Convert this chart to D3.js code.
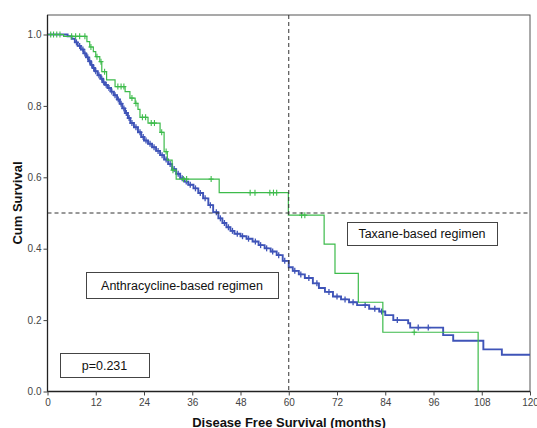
<!DOCTYPE html>
<html><head><meta charset="utf-8">
<script src="https://cdn.jsdelivr.net/npm/d3@7"></script>
<style>body{margin:0;background:#fff}svg{display:block}text{font-family:"Liberation Sans",Arial,sans-serif}</style>
</head><body><svg id="c" width="537" height="428"></svg>
<script>
// ---- data ----
const xTicks = [0,12,24,36,48,60,72,84,96,108,120];
const yTicks = [0.0,0.2,0.4,0.6,0.8,1.0];
const antTimes = [0,5,6,6.8,7.5,8.3,9,9.6,10.2,10.8,11.3,11.8,12.5,13.2,13.8,14.3,15,15.8,16.5,17.3,18,18.6,19.3,20,20.6,21.5,22.5,23.3,24,25,26,27,28,29,30,31,32,33,34,35,36.3,37.5,38.7,40,41.2,42.5,43.5,44.5,45.5,46.5,48,49.5,51,52.5,54,55.5,57,58.5,60,61,62.5,64,66,67.5,69,71,73,75,77,80,82.5,84,86,89.7,90.2,98.4,100.9,108.4,113,120];
const antSurv = [1,0.995,0.988,0.978,0.968,0.958,0.947,0.936,0.925,0.915,0.906,0.897,0.886,0.876,0.866,0.859,0.85,0.84,0.83,0.818,0.806,0.793,0.78,0.766,0.752,0.74,0.726,0.713,0.703,0.694,0.684,0.674,0.662,0.65,0.637,0.623,0.61,0.597,0.588,0.579,0.569,0.556,0.541,0.522,0.502,0.485,0.472,0.46,0.45,0.442,0.435,0.428,0.42,0.41,0.401,0.392,0.382,0.366,0.348,0.338,0.328,0.318,0.303,0.29,0.279,0.266,0.258,0.25,0.242,0.232,0.224,0.214,0.2,0.191,0.179,0.158,0.142,0.118,0.103,0.103];
const antCensor = [7.2,8,8.8,9.3,10,10.5,11,11.5,12,12.8,13.5,14,14.6,15.3,16,16.8,17.6,18.3,19,19.6,20.3,21,22,23,23.8,24.5,25.5,26.5,27.5,28.5,29.5,30.5,31.5,32.5,33.5,34.5,35.5,36.8,38,39.2,40.5,42,43,44,45,46,47.2,48.5,50,51.7,53,54.5,56,57.5,59,61.5,63,65,67,70,72,74,76,79,81.4,83.1,87,92.2,94.7];
const taxTimes = [0,4,9.8,10.5,11.4,12,13,13.5,14.7,16.8,19.3,20.5,21.8,22.5,23,25,28,29,29.8,31,32,42.7,59.9,68.8,71.5,77.3,83.4,107.1];
const taxSurv = [1,0.995,0.98,0.965,0.952,0.938,0.924,0.896,0.873,0.854,0.84,0.822,0.807,0.79,0.768,0.752,0.726,0.672,0.648,0.62,0.595,0.557,0.494,0.413,0.331,0.25,0.166,0];
const taxCensor = [0.8,1.5,2.3,3.1,6,7,8,9.3,10.8,12.3,13.3,14.2,17.5,18.3,19,21,22,23.6,24.4,25.8,26.6,28.4,29.5,31.2,33.8,34.6,40.7,50.4,51.6,55.3,56.2,57,63.2,64,91.2];
const refSurv = 0.5, refTime = 60;
const pText = "p=0.231";
const labels = ["Taxane-based regimen","Anthracycline-based regimen"];

// ---- layout ----
const svg = d3.select("#c");
const L=47.5, R=530, T=15, B=391.5;
const x = d3.scaleLinear().domain([0,120]).range([L,R]);
const y = d3.scaleLinear().domain([0,1]).range([B,34.5]);

// frame
svg.append("rect").attr("x",L).attr("y",T).attr("width",R-L).attr("height",B-T)
  .attr("fill","none").attr("stroke","#555").attr("stroke-width",1);

function series(times, surv){ return times.map((t,i)=>[t,surv[i]]); }
function survAt(times,surv,t){ let s=surv[0]; for(let i=0;i<times.length;i++){ if(times[i]<=t) s=surv[i]; } return s; }
const line = d3.line().x(d=>x(d[0])).y(d=>y(d[1])).curve(d3.curveStepAfter);

function drawCurve(times,surv,cens,color,w,cw){
  svg.append("path").attr("d",line(series(times,surv))).attr("fill","none")
    .attr("stroke",color).attr("stroke-width",w);
  const g = svg.append("g").attr("stroke",color).attr("stroke-width",cw);
  cens.forEach(t=>{
    const cx=x(t), cy=y(survAt(times,surv,t));
    g.append("line").attr("x1",cx).attr("x2",cx).attr("y1",cy-3).attr("y2",cy+3);
    g.append("line").attr("x1",cx-2.5).attr("x2",cx+2.5).attr("y1",cy).attr("y2",cy);
  });
}
drawCurve(antTimes,antSurv,antCensor,"#3f54b8",1.9,1.3);
drawCurve(taxTimes,taxSurv,taxCensor,"#3dbb4b",1.2,1.1);

// reference lines
svg.append("line").attr("x1",L).attr("x2",R).attr("y1",y(refSurv)).attr("y2",y(refSurv))
  .attr("stroke","#333").attr("stroke-dasharray","4,3");
svg.append("line").attr("x1",x(refTime)).attr("x2",x(refTime)).attr("y1",T).attr("y2",B)
  .attr("stroke","#333").attr("stroke-dasharray","4,3");

// axes
const yAxis = svg.append("g").attr("transform",`translate(${L},0)`)
  .call(d3.axisLeft(y).tickValues(yTicks).tickFormat(d3.format(".1f")).tickSize(4).tickPadding(2));
const xAxis = svg.append("g").attr("transform",`translate(0,${B})`)
  .call(d3.axisBottom(x).tickValues(xTicks).tickSize(4).tickPadding(3));
[yAxis,xAxis].forEach(a=>{
  a.select(".domain").attr("stroke","#222").attr("stroke-width",1.3);
  a.selectAll(".tick line").attr("stroke","#444");
  a.selectAll("text").attr("fill","#444").style("font-size","10px").style("font-family","'Liberation Sans',Arial,sans-serif");
});
yAxis.select(".domain").attr("d",`M0,${B}V${T}`);
xAxis.select(".domain").attr("d",`M${L},0H${R}`);

// titles
svg.append("text").attr("transform",`translate(22,203) rotate(-90)`).attr("text-anchor","middle")
  .style("font-size","13px").style("font-weight","bold").attr("fill","#111").text("Cum Survival");
svg.append("text").attr("x",289).attr("y",426.5).attr("text-anchor","middle")
  .style("font-size","13px").style("font-weight","bold").attr("fill","#111").text("Disease Free Survival (months)");

// boxes
function box(x0,y0,w,h,txt,fs){
  svg.append("rect").attr("x",x0+0.5).attr("y",y0+0.5).attr("width",w).attr("height",h)
    .attr("fill","#fff").attr("stroke","#444").attr("stroke-width",1);
  svg.append("text").attr("x",x0+w/2).attr("y",y0+h/2+4.5).attr("text-anchor","middle")
    .style("font-size",fs+"px").attr("fill","#111").text(txt);
}
box(347,222,150,23,labels[0],12.5);
box(86,272,192,26,labels[1],12.5);
box(60,353,89,24,pText,12.5);
</script></body></html>
